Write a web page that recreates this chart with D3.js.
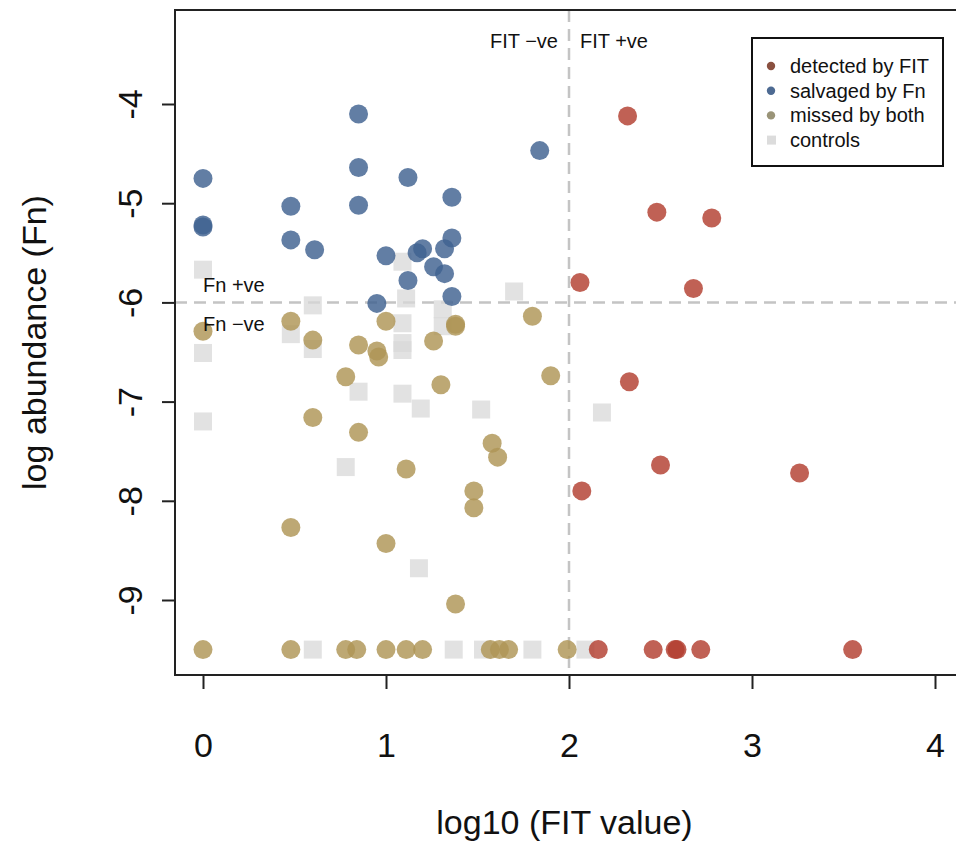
<!DOCTYPE html>
<html>
<head>
<meta charset="utf-8">
<script src="https://cdn.jsdelivr.net/npm/d3@7"></script>
<style>
  body { margin: 0; background: #fff; }
  text { font-family: "Liberation Sans", Arial, Helvetica, sans-serif; fill: #111; }
</style>
</head>
<body>
<svg id="chart" width="956" height="847"></svg>
<script>
/********************************************************
 ********************* Data *****************************
 ********************************************************/
// log10 (FIT value) / log abundance (Fn)
var detected_x = [2.32, 2.48, 2.78, 2.06, 2.68, 2.33, 2.50, 2.07, 3.26, 2.16, 2.46, 2.58, 2.59, 2.72, 3.55];
var detected_y = [-4.12, -5.09, -5.15, -5.80, -5.86, -6.80, -7.64, -7.90, -7.72, -9.5, -9.5, -9.5, -9.5, -9.5, -9.5];

var salvaged_x = [0.85, 1.84, 0.00, 0.85, 1.12, 1.36, 0.48, 0.85, 0.00, 0.00, 0.48, 0.61, 1.00, 1.20, 1.17, 1.36, 1.32, 1.26, 1.32, 1.12, 1.36, 0.95];
var salvaged_y = [-4.10, -4.47, -4.75, -4.64, -4.74, -4.94, -5.03, -5.02, -5.22, -5.24, -5.37, -5.47, -5.53, -5.46, -5.50, -5.35, -5.46, -5.64, -5.71, -5.78, -5.94, -6.01];

var missed_x = [0.00, 0.48, 0.60, 1.00, 1.38, 1.38, 1.80, 0.85, 0.95, 0.96, 1.26, 0.78, 1.30, 1.90, 0.60, 0.85, 1.11, 1.58, 1.61, 1.48, 1.48, 0.48, 1.00, 1.38,
                0.00, 0.48, 0.78, 0.84, 1.00, 1.11, 1.20, 1.57, 1.62, 1.67, 1.99];
var missed_y = [-6.29, -6.19, -6.38, -6.19, -6.22, -6.24, -6.14, -6.43, -6.49, -6.55, -6.39, -6.75, -6.83, -6.74, -7.16, -7.31, -7.68, -7.42, -7.56, -7.90, -8.07, -8.27, -8.43, -9.04,
                -9.5, -9.5, -9.5, -9.5, -9.5, -9.5, -9.5, -9.5, -9.5, -9.5, -9.5];

var control_x = [0.00, 0.60, 0.48, 0.60, 0.00, 0.85, 0.00, 1.09, 1.11, 1.70, 1.31, 1.31, 1.09, 1.09, 1.09, 1.09, 1.19, 1.52, 0.78, 1.18, 2.18,
                 0.60, 1.37, 1.53, 1.80, 2.09];
var control_y = [-5.67, -6.03, -6.32, -6.47, -6.51, -6.90, -7.20, -5.59, -5.96, -5.89, -6.07, -6.24, -6.21, -6.41, -6.48, -6.92, -7.07, -7.08, -7.66, -8.68, -7.11,
                 -9.5, -9.5, -9.5, -9.5, -9.5];

var x_ticks = [0, 1, 2, 3, 4];
var y_ticks = [-4, -5, -6, -7, -8, -9];
var legend_labels = ["detected by FIT", "salvaged by Fn", "missed by both", "controls"];

/********************************************************
 ********************* Layout ***************************
 ********************************************************/
var svg = d3.select("#chart");
var box = {left: 175, right: 962, top: 10, bottom: 675};

var x = d3.scaleLinear().domain([0, 4]).range([203, 935]);
var y = d3.scaleLinear().domain([-4, -9]).range([104, 600]);

function zip(xs, ys){
  return xs.map(function(d, i){ return {x: d, y: ys[i]}; });
}

// threshold lines
svg.append("line")
    .attr("x1", x(2)).attr("x2", x(2))
    .attr("y1", box.top).attr("y2", box.bottom)
    .attr("stroke", "#c4c4c4").attr("stroke-width", 2.5)
    .attr("stroke-dasharray", "12,7");
svg.append("line")
    .attr("x1", box.left).attr("x2", box.right)
    .attr("y1", y(-6)).attr("y2", y(-6))
    .attr("stroke", "#c4c4c4").attr("stroke-width", 2.5)
    .attr("stroke-dasharray", "12,7");

/********************************************************
 ********************* Points ***************************
 ********************************************************/
var sq = 18;
svg.append("g").selectAll("rect")
    .data(zip(control_x, control_y))
    .enter().append("rect")
      .attr("x", function(d) { return x(d.x) - sq / 2; })
      .attr("y", function(d) { return y(d.y) - sq / 2; })
      .attr("width", sq).attr("height", sq)
      .attr("fill", "#d8d8d8")
      .attr("fill-opacity", 0.75);

function dots(data, color){
  svg.append("g").selectAll("circle")
      .data(data)
      .enter().append("circle")
        .attr("cx", function(d) { return x(d.x); })
        .attr("cy", function(d) { return y(d.y); })
        .attr("r", 9.5)
        .attr("fill", color)
        .attr("fill-opacity", 0.82);
}
dots(zip(missed_x, missed_y), "#ae9556");
dots(zip(salvaged_x, salvaged_y), "#3f6290");
dots(zip(detected_x, detected_y), "#b23e30");

/********************************************************
 ********************* Axes *****************************
 ********************************************************/
svg.append("rect")
    .attr("x", box.left).attr("y", box.top)
    .attr("width", box.right - box.left).attr("height", box.bottom - box.top)
    .attr("fill", "none").attr("stroke", "#222").attr("stroke-width", 2);

var gx = svg.append("g")
    .attr("transform", "translate(0," + box.bottom + ")")
    .call(d3.axisBottom(x).tickValues(x_ticks).tickSize(14).tickPadding(44)
      .tickFormat(function(d) { return String(d); }));
gx.select(".domain").remove();
gx.selectAll("line").attr("stroke", "#222").attr("stroke-width", 2);
gx.selectAll("text").attr("font-size", 34).attr("fill", "#111")
    .style("font-family", "'Liberation Sans', Arial, sans-serif");

var gy = svg.append("g")
    .attr("transform", "translate(" + box.left + ",0)")
    .call(d3.axisLeft(y).tickValues(y_ticks).tickSize(13)
      .tickFormat(function(d) { return String(d); }));
gy.select(".domain").remove();
gy.selectAll("line").attr("stroke", "#222").attr("stroke-width", 2);
gy.selectAll("text")
    .attr("font-size", 34).attr("fill", "#111")
    .style("font-family", "'Liberation Sans', Arial, sans-serif")
    .attr("x", 0).attr("y", -33).attr("dy", 0)
    .attr("text-anchor", "middle")
    .attr("transform", "rotate(-90)");

svg.append("text")
    .attr("x", (box.left + box.right) / 2 - 4).attr("y", 834)
    .attr("text-anchor", "middle").attr("font-size", 34)
    .text("log10 (FIT value)");

svg.append("text")
    .attr("transform", "translate(46," + ((box.top + box.bottom) / 2) + ") rotate(-90)")
    .attr("text-anchor", "middle").attr("font-size", 34)
    .text("log abundance (Fn)");

/********************************************************
 ********************* Annotations **********************
 ********************************************************/
svg.append("text").attr("x", 558).attr("y", 48).attr("text-anchor", "end")
    .attr("font-size", 20).text("FIT \u2212ve");
svg.append("text").attr("x", 580).attr("y", 48)
    .attr("font-size", 20).text("FIT +ve");
svg.append("text").attr("x", 203).attr("y", 292)
    .attr("font-size", 20).text("Fn +ve");
svg.append("text").attr("x", 203).attr("y", 331)
    .attr("font-size", 20).text("Fn \u2212ve");

/********************************************************
 ********************* Legend ***************************
 ********************************************************/
var legend_colors = ["#8a5040", "#4d6a92", "#9a9478", "#dcdcdc"];
var legend = svg.append("g").attr("transform", "translate(752,38)");
legend.append("rect")
    .attr("width", 191).attr("height", 128)
    .attr("fill", "#fff").attr("stroke", "#111").attr("stroke-width", 2);

legend_labels.forEach(function(label, i){
  var cy = 28 + i * 24.7;
  if (i < 3) {
    legend.append("circle").attr("cx", 19).attr("cy", cy).attr("r", 4.2)
        .attr("fill", legend_colors[i]);
  } else {
    legend.append("rect").attr("x", 15).attr("y", cy - 4.5)
        .attr("width", 9).attr("height", 9).attr("fill", legend_colors[i]);
  }
  legend.append("text").attr("x", 38).attr("y", cy + 7)
      .attr("font-size", 20).text(label);
});
</script>
</body>
</html>
